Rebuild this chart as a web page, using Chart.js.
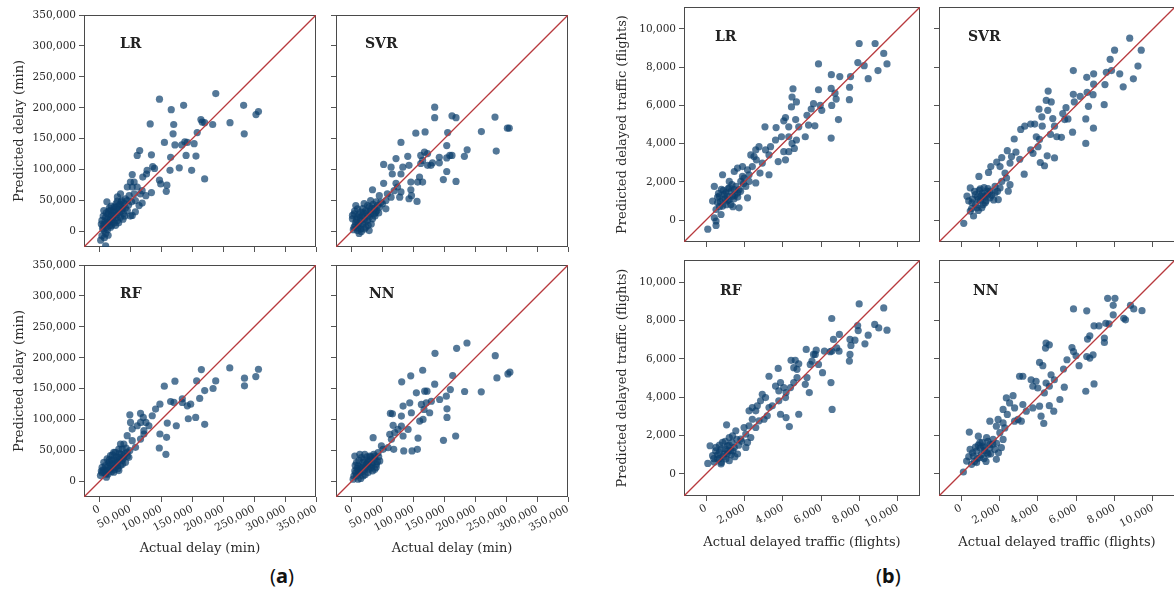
<!DOCTYPE html>
<html>
<head>
<meta charset="utf-8">
<script src="https://cdn.jsdelivr.net/npm/chart.js@4.4.0/dist/chart.umd.min.js"></script>
<style>
  body { margin: 0; width: 1174px; height: 592px; overflow: hidden; background: #fff; position: relative; }
  .tag { position: absolute; font-family: "Noto Sans", sans-serif; font-size: 20px; color: #111; }
</style>
</head>
<body>
<div class="tag" style="left:270px;top:562px">(<b>a</b>)</div>
<div class="tag" style="left:876px;top:562px">(<b>b</b>)</div>
<script>
// axis ticks and limits
const delayTicks = [0, 50000, 100000, 150000, 200000, 250000, 300000, 350000];
const trafficTicks = [0, 2000, 4000, 6000, 8000, 10000];
const delayRange = [-25000, 350000];
const trafficRange = [-1150, 11150];

// (a) actual vs predicted delay (min), [actual, predicted]
const delayLR = [
  [97000,214000],[116000,197000],[136000,204000],[188000,223000],[233000,204000],[253000,189000],[257000,194000],
  [234000,158000],[211000,176000],[183000,173000],[164000,181000],[166000,177000],[170000,176000],[158000,160000],
  [142000,144000],[120000,173000],[119000,158000],[82000,174000],[105000,144000],[122000,140000],[133000,140000],
  [138000,145000],[153000,142000],[140000,123000],[156000,122000],[170000,85000],[149000,99000],[129000,103000],
  [114000,99000],[115000,120000],[108000,65000],[109000,75000],[97000,83000],[99000,77000],[86000,105000],
  [89000,102000],[61000,123000],[65000,131000],[84000,124000],[77000,99000],[70000,88000],[76000,93000],
  [84000,63000],[53000,92000],[56000,80000],[50000,80000],[45000,72000],[66000,61000],[64000,42000],[69000,46000],
  [58000,32000],[53000,26000],[50000,25000],[35000,48000],[29000,49000],[26000,39000],[37000,37000],[31000,41000],
  [10000,-23000],[2000,-14000],[4000,-7000],[7000,2000],[11000,7000],[15000,15000],[4000,18000],[10000,23000],
  [18000,23000],[23000,26000],[18000,34000],[7000,34000],[12000,48000],[29000,18000],[26000,10000],[18000,7000],
  [34000,23000],[39000,29000],[45000,34000],[37000,42000],[42000,53000],[48000,58000],[56000,61000],[58000,50000],
  [53000,72000],[61000,72000],[69000,66000],[75000,58000],[34000,61000],[29000,56000],[8000,12000],[14000,28000],
  [20000,15000],[22000,30000],[27000,22000],[13000,20000],[6000,25000],[24000,40000],[32000,30000],[16000,38000],
  [40000,45000],[45000,50000],[10000,-3000],[20000,10000],
  [5000,5000],[9000,16000],[13000,3000],[16000,10000],[21000,20000],[25000,32000],[28000,27000],[30000,36000],
  [33000,44000],[36000,50000],[19000,41000],[11000,30000],[3000,12000],[8000,-10000],[14000,-6000],[24000,14000],
  [31000,14000],[38000,20000],[42000,38000],[47000,43000],[52000,48000],[27000,45000],[15000,33000],[6000,9000],
  [20000,27000],[35000,33000],[41000,25000],[17000,18000],[12000,14000],[23000,35000]
];
const delaySVR = [
  [134500,201000],[134500,184000],[162500,187000],[169000,184000],[232000,185000],[252000,167000],[255000,167000],
  [210000,161500],[155500,160000],[104000,159000],[119000,161000],[80000,144000],[154000,139000],[187000,132000],
  [234000,130000],[182500,121500],[159000,123000],[162500,123000],[154000,119000],[142000,120000],[142000,111000],
  [154000,97000],[169000,81000],[148500,84000],[131000,111000],[128500,107000],[112000,123000],[118000,128500],
  [123000,126000],[115000,115000],[112000,110000],[123000,107000],[91000,121500],[72000,118000],[52000,108500],
  [64000,104000],[83000,104000],[93000,107000],[80000,93000],[66000,93000],[96000,80000],[107000,80000],
  [115000,80000],[110000,88000],[52000,78000],[34000,67500],[72000,78000],[74500,72000],[69000,66000],[96000,67500],
  [97000,58000],[93000,53000],[106000,48600],[78000,55600],[80000,64000],[58000,61000],[64000,55600],[55600,50000],
  [45000,58000],[47500,47500],[42000,42000],[31000,50000],[26000,42000],[37000,37000],[23000,34000],[31000,28600],
  [39000,31000],[4300,28600],[9700,23200],[15100,17800],[7000,15100],[12400,9700],[17800,25900],[20500,20500],
  [4300,7000],[9700,1600],[1600,20500],[25900,17800],[23200,7000],[15100,4300],[28600,1600],[12400,-3000],
  [7000,42000],[20500,45000],[9700,36700],[15100,31300],[28600,23200],[34000,20500],[36700,28600],[45000,39400],
  [50000,45000],[55600,36700],[1600,26000],
  [3000,3000],[6000,10000],[11000,13000],[14000,22000],[18000,12000],[22000,15000],[26000,25000],[30000,33000],
  [33000,38000],[38000,25000],[41000,34000],[19000,30000],[8000,20000],[12000,27000],[24000,30000],[27000,10000],
  [32000,12000],[16000,0],[21000,4000],[5000,33000],[35000,44000],[40000,48000],[44000,30000],[10000,6000],
  [29000,40000],[18000,37000]
];
const delayRF = [
  [210600,183700],[164700,181000],[257000,181500],[252700,169700],[234400,167000],[234400,154700],[187900,162700],
  [157100,162700],[122000,162200],[104800,154100],[170100,147100],[183600,150400],[162000,134300],[133900,133700],
  [133900,127800],[115000,129400],[120400,127800],[147400,125100],[142000,122400],[97700,125100],[155500,103600],
  [143600,101500],[170100,92400],[124200,90200],[109600,94500],[108500,71400],[97700,76800],[96700,54200],
  [107400,44000],[90700,117100],[85300,106300],[66400,110100],[70800,103600],[75100,95600],[49100,107900],
  [61000,90200],[66400,95600],[79900,90200],[71800,82200],[50200,95600],[52900,84800],[44800,74100],[39400,60700],
  [52900,66100],[58300,55300],[34000,60700],[31300,52600],[23200,47300],[66400,68700],[71800,76800],
  [1600,9700],[7000,15000],[4300,23100],[9700,25800],[12400,17700],[17800,20400],[15100,31100],[20500,28500],
  [23200,36500],[25900,23100],[28600,31100],[31300,39200],[34000,25800],[36700,33800],[39400,41900],[42100,31100],
  [23200,15000],[12400,36500],[7000,31100],[17800,41900],[44800,47300],[47500,39200],[31300,17700],[11300,7000],
  [25900,47300],[36700,52600],
  [4000,14000],[9000,19000],[14000,12000],[17000,27000],[20000,34000],[22000,22000],[26000,29000],[29000,26000],
  [33000,36000],[35000,44000],[38000,37000],[41000,45000],[45000,41000],[28000,40000],[14000,24000],[19000,16000],
  [24000,19000],[30000,21000],[10000,12000],[6000,19000],[16000,35000],[49000,50000],[43000,54000],[37000,28000],
  [32000,45000],[3000,17000],[27000,34000],[21000,43000]
];
const delayNN = [
  [186700,223900],[170000,215300],[135000,207300],[232400,203500],[115100,179900],[95800,170800],[81200,161100],
  [163600,171300],[256100,176700],[252900,174000],[235100,167500],[134500,157300],[182900,145500],[209800,145000],
  [159800,148700],[153300,138000],[118400,146100],[122100,146100],[104900,143400],[94200,127300],[83400,121900],
  [96800,111200],[80700,105800],[66200,109500],[62900,110100],[113000,124600],[121000,127300],[117300,116500],
  [126400,111200],[110300,97700],[115700,100400],[142600,132600],[129100,129800],[154400,117600],[154400,103600],
  [148700,66600],[168400,73600],[107600,70300],[97900,49400],[84500,49400],[106500,52100],[67300,90800],
  [75300,84300],[69900,78900],[61900,76300],[64600,68200],[80700,89700],[91500,84300],[83400,73600],[68300,52100],
  [59200,54800],[48400,57500],[35000,70900],[43000,46700],[51100,52100],[37700,41300],[29600,41300],
  [2700,3800],[8100,9100],[5400,17200],[13500,14500],[16100,22600],[10800,25200],[21500,19900],[24200,27900],
  [18800,30600],[8100,30600],[5400,41300],[29600,25200],[26900,33300],[35000,30600],[32300,22600],[40300,27900],
  [16100,38700],[21500,44000],[10800,3800],[18800,9100],[26900,14500],[37700,19900],[45700,33300],[13500,44000],
  [4000,9000],[7000,14000],[11000,18000],[14000,22000],[19000,25000],[23000,23000],[26000,30000],[30000,35000],
  [33000,28000],[38000,38000],[42000,32000],[12000,34000],[9000,21000],[17000,16000],[22000,11000],[28000,20000],
  [31000,40000],[36000,44000],[15000,5000],[20000,35000],[6000,26000],[40000,23000],[25000,40000],[34000,17000],
  [44000,40000]
];

// (b) actual vs predicted delayed traffic (flights), [actual, predicted]
const trafficLR = [
  [7980,9240],[8810,9240],[9260,8720],[9430,8170],[7910,8240],[8240,8080],[8960,7820],[8450,7400],[5860,8170],
  [6530,7610],[6970,7510],[7530,7510],[7480,6950],[7470,6300],[6520,6890],[6720,6640],[6780,6330],[5860,6820],
  [4530,6870],[4480,6440],[4710,6180],[4450,5920],[6550,6000],[5950,6000],[6030,5740],[5480,5810],[5260,5480],
  [5600,6090],[6900,5260],[6520,4290],[5670,4930],[5340,4970],[4670,5260],[4830,4880],[4310,4880],[5170,4360],
  [4710,4190],[4140,5360],[4050,5190],[3070,4880],[3650,4840],[3930,4360],[3620,4190],[4310,4360],[4480,4010],
  [4600,3750],[4310,3580],[4050,3580],[4140,3150],[3760,3060],[3360,3840],[3100,3670],[3280,3410],[2760,3840],
  [2590,3670],[2500,3320],[2930,2980],[2620,3150],[2330,3410],[3280,2370],[2810,2460],[2410,2800],[2160,2630],
  [2240,2370],[1900,2800],[1640,2720],[1470,2540],[1980,2200],[1810,2020],[2070,1760],[2590,1940],[2160,1160],
  [1720,1590],[860,2370],[430,1760],[1210,1680],[1470,1590],[1030,1420],[1380,1250],[690,1250],[860,1070],
  [1120,990],[600,900],[340,990],[860,730],[1290,810],[1720,640],[520,550],[780,290],[430,120],[520,-50],[520,-280],
  [90,-480],[1550,1760],[1640,1420],[1210,2020],[1900,2280],[2240,2020],
  [650,1400],[900,1550],[1100,1250],[1300,1500],[1500,1300],[1000,1100],[750,950],[1200,1050],[1450,1100],
  [950,1350],[1150,1650],[1350,1850],[800,1600],[600,1200],[1650,1200],[1800,1500],[1050,800],[700,700],
  [1400,700],[1950,1900]
];
const trafficSVR = [
  [8790,9520],[8000,8890],[9390,8890],[7770,8410],[9220,8060],[7840,7820],[7570,7730],[8270,7650],[8980,7390],
  [8450,6970],[5850,7820],[6550,7470],[6910,7650],[6910,7110],[7500,7090],[7460,6040],[6570,6680],[6880,6560],
  [5850,6580],[6210,6470],[5900,6180],[6640,5950],[6500,5290],[6900,4810],[6500,4010],[5810,4600],[5400,5260],
  [5570,5290],[5300,5570],[5470,5880],[4540,6750],[4440,6260],[4700,6180],[4520,5740],[4060,5800],[4210,5400],
  [3630,5020],[3840,5020],[3320,4910],[4780,5310],[4870,4910],[4660,4480],[4990,4360],[5230,4330],[4230,4910],
  [3920,4360],[4090,4220],[4010,3840],[4490,3360],[4870,3250],[4130,3010],[4350,2840],[3750,3490],[3630,3670],
  [2770,4240],[3110,4740],[2410,3630],[2860,3550],[2630,3320],[3060,3180],[2550,2980],[2120,3270],[1860,3030],
  [2030,2800],[1550,2800],[1430,2490],[930,2280],[2290,2460],[2370,2200],[2550,1850],[2120,2020],[2460,1510],
  [2030,1680],[3290,2400],[1770,1420],[1940,1070],[480,1680],[1000,1630],[1340,1510],[740,1330],[1170,1250],
  [1510,1160],[310,1250],[910,1070],[570,900],[1260,900],[830,640],[480,470],[1080,640],[650,210],[140,-170],
  [1510,1510],[1770,1760],
  [700,1500],[850,1200],[1100,1400],[1250,1200],[1400,1350],[950,1550],[600,1100],[1000,1000],[1300,1000],
  [750,800],[1150,800],[1600,1300],[1400,1650],[900,500],[400,1000],[1700,1050],[1200,1700],[550,600],
  [1050,1250],[1900,1500]
];
const trafficRF = [
  [7980,8860],[9260,8650],[6550,8100],[8790,7790],[9000,7610],[9430,7490],[7900,7730],[7930,7470],[8450,7230],
  [8280,6780],[7500,7010],[7760,6970],[6950,7270],[6640,7010],[7550,6700],[7500,6230],[7470,5880],[6550,6400],
  [6810,6570],[6930,6400],[6170,6400],[6470,6370],[6510,4760],[6570,3360],[6070,5280],[5740,6450],[5690,6230],
  [5860,5710],[5520,5880],[5430,5710],[5600,6230],[5220,6490],[4650,5920],[4430,5920],[4830,5740],[4570,5540],
  [4740,5450],[3760,5500],[3280,5090],[5260,5020],[5170,4670],[5380,4240],[4740,5020],[4570,4760],[4400,4500],
  [4170,4240],[3880,4760],[4050,4500],[3790,4330],[3620,4580],[4140,3980],[3790,3810],[3880,3110],[4170,2940],
  [4340,2470],[4830,3110],[2930,4150],[3100,3980],[2840,3810],[2410,3460],[2590,3290],[2240,3290],[2670,3550],
  [3280,3460],[3450,3550],[3190,3030],[3020,2850],[2760,2770],[2410,2850],[2240,2510],[2590,2420],[1980,2420],
  [1070,2560],[2070,2080],[2330,1900],[1810,1820],[2160,1640],[1550,2250],[1380,1990],[1210,1900],[210,1470],
  [520,1380],[860,1640],[1120,1470],[690,1120],[950,1040],[340,950],[600,780],[1030,780],[1290,1210],[1470,1380],
  [1640,1040],[1210,690],[90,550],[430,610],[780,520],[2070,1380],
  [500,1200],[700,1500],[800,1300],[1000,1300],[1150,1200],[1300,1000],[900,900],[700,800],[1100,1050],
  [1400,1200],[1200,1500],[1000,1700],[600,1000],[1500,900],[1700,1500],[1350,1650],[800,600],[1600,1800],
  [1850,1700],[400,800]
];
const trafficNN = [
  [7640,9150],[8020,9150],[5860,8600],[6550,8500],[7930,8790],[7930,8290],[8830,8790],[9000,8600],[9430,8510],
  [8480,8110],[8570,8030],[7710,7820],[7540,7850],[7190,7720],[6930,7720],[7470,7080],[7470,6850],[6710,7200],
  [6590,7030],[6880,6210],[6550,6120],[6710,6040],[6150,5640],[5520,5950],[5990,6160],[5780,6590],[5860,6380],
  [6500,4310],[6930,4690],[5340,5470],[5150,3880],[5380,4520],[4430,6820],[4600,6730],[4400,6560],[4090,5810],
  [4260,5640],[3220,5090],[3050,5090],[3650,4910],[3910,4830],[3740,4570],[4000,4480],[4690,5170],[4860,4910],
  [4430,4740],[4600,4570],[4340,4220],[3740,3440],[4090,3530],[4600,3560],[4830,3270],[4170,3010],[4310,2630],
  [2360,3960],[2710,4080],[2530,3700],[2790,3440],[2190,3360],[2410,3100],[3220,3620],[3400,3270],[2970,2840],
  [3140,2750],[2790,2750],[1500,2750],[1930,2840],[1840,2490],[2190,2660],[2280,2400],[2020,2150],[430,2180],
  [900,1970],[1330,1890],[1670,1800],[980,1630],[1500,1540],[470,1280],[810,1190],[1240,1370],[1760,1280],
  [640,930],[980,850],[1410,1020],[290,670],[550,500],[810,590],[120,100],[1840,760],[2100,1370],[2190,1800],
  [600,1100],[750,1400],[900,1500],[1100,1650],[1200,1200],[1350,1100],[1500,1350],[1650,1550],[1050,1000],
  [850,800],[700,650],[1200,800],[1550,1050],[1150,1450],[1850,1600],[400,900],[1000,1350],[1400,1700],
  [1300,650],[1950,1100]
];

const fmt = v => String(v).replace(/\B(?=(\d{3})+(?!\d))/g, ',');
const FONT = '"DejaVu Serif", serif';

// frame around the plot area and the model name
const panelDeco = {
  id: 'panelDeco',
  beforeDatasetsDraw(chart) {
    const { ctx, chartArea: a } = chart;
    ctx.save();
    ctx.strokeStyle = '#4a4a4a';
    ctx.lineWidth = 1;
    ctx.strokeRect(a.left + 0.5, a.top + 0.5, a.right - a.left - 1, a.bottom - a.top - 1);
    ctx.restore();
  },
  afterDatasetsDraw(chart, args, opts) {
    const { ctx, chartArea: a } = chart;
    ctx.save();
    ctx.fillStyle = '#222';
    ctx.font = 'bold 14px ' + FONT;
    ctx.textBaseline = 'middle';
    ctx.fillText(opts.label, a.left + opts.dx, a.top + opts.dy);
    ctx.restore();
  }
};

const panels = [
  { points: delayLR,    label: 'LR',  x: 84,  y: 15,  w: 232, h: 232, dx: 36, dy: 29, a: true,  showY: true,  showX: false },
  { points: delaySVR,   label: 'SVR', x: 336, y: 15,  w: 232, h: 232, dx: 29, dy: 29, a: true,  showY: false, showX: false },
  { points: delayRF,    label: 'RF',  x: 84,  y: 265, w: 232, h: 232, dx: 36, dy: 29, a: true,  showY: true,  showX: true },
  { points: delayNN,    label: 'NN',  x: 336, y: 265, w: 232, h: 232, dx: 33, dy: 29, a: true,  showY: false, showX: true },
  { points: trafficLR,  label: 'LR',  x: 684, y: 7,   w: 236, h: 235, dx: 31, dy: 30, a: false, showY: true,  showX: false },
  { points: trafficSVR, label: 'SVR', x: 939, y: 7,   w: 236, h: 235, dx: 29, dy: 30, a: false, showY: false, showX: false },
  { points: trafficRF,  label: 'RF',  x: 684, y: 260, w: 236, h: 236, dx: 36, dy: 31, a: false, showY: true,  showX: true },
  { points: trafficNN,  label: 'NN',  x: 939, y: 260, w: 236, h: 236, dx: 34, dy: 31, a: false, showY: false, showX: true }
];

function axis(p, horizontal, lo, hi, ticks, size, title) {
  const show = horizontal ? p.showX : p.showY;
  return {
    type: 'linear',
    position: horizontal ? 'bottom' : 'left',
    min: lo,
    max: hi,
    afterBuildTicks: s => { s.ticks = ticks.map(v => ({ value: v })); },
    afterFit: s => { if (horizontal) s.height = size; else s.width = size; },
    grid: { drawOnChartArea: false, drawTicks: true, tickLength: 5, color: '#555' },
    border: { display: false },
    ticks: {
      autoSkip: false,
      minRotation: horizontal ? 28 : 0,
      maxRotation: horizontal ? 28 : 0,
      padding: horizontal ? 1 : 3,
      color: '#2a2a2a',
      font: { family: FONT, size: 10.5 },
      callback: v => (show ? fmt(v) : '')
    },
    title: { display: show, text: title, color: '#2a2a2a', font: { family: FONT, size: 13 } }
  };
}

function drawPanel(p) {
  const ml = p.showY ? (p.a ? 76 : 73) : 20;
  const mb = p.showX ? (p.a ? 63 : 58) : 12;
  const mt = 10, mr = 14;
  const [lo, hi] = p.a ? delayRange : trafficRange;
  const ticks = p.a ? delayTicks : trafficTicks;
  const cv = document.createElement('canvas');
  cv.width = p.w + ml + mr;
  cv.height = p.h + mt + mb;
  cv.style.cssText = `position:absolute;left:${p.x - ml}px;top:${p.y - mt}px`;
  document.body.appendChild(cv);

  new Chart(cv, {
    type: 'scatter',
    data: {
      datasets: [
        {
          data: [{ x: lo, y: lo }, { x: hi, y: hi }],
          showLine: true,
          borderColor: '#b83a3e',
          borderWidth: 1.3,
          pointRadius: 0,
          order: 0
        },
        {
          data: p.points.map(([x, y]) => ({ x, y })),
          pointRadius: 3.6,
          pointBackgroundColor: 'rgba(12, 62, 108, 0.7)',
          pointBorderWidth: 0,
          order: 1
        }
      ]
    },
    options: {
      responsive: false,
      animation: false,
      events: [],
      layout: { padding: { top: mt, right: mr, left: 0, bottom: 0 } },
      plugins: {
        legend: { display: false },
        tooltip: { enabled: false },
        panelDeco: { label: p.label, dx: p.dx, dy: p.dy }
      },
      scales: {
        x: axis(p, true, lo, hi, ticks, mb, p.a ? 'Actual delay (min)' : 'Actual delayed traffic (flights)'),
        y: axis(p, false, lo, hi, ticks, ml, p.a ? 'Predicted delay (min)' : 'Predicted delayed traffic (flights)')
      }
    },
    plugins: [panelDeco]
  });
}

panels.forEach(drawPanel);
</script>
</body>
</html>
